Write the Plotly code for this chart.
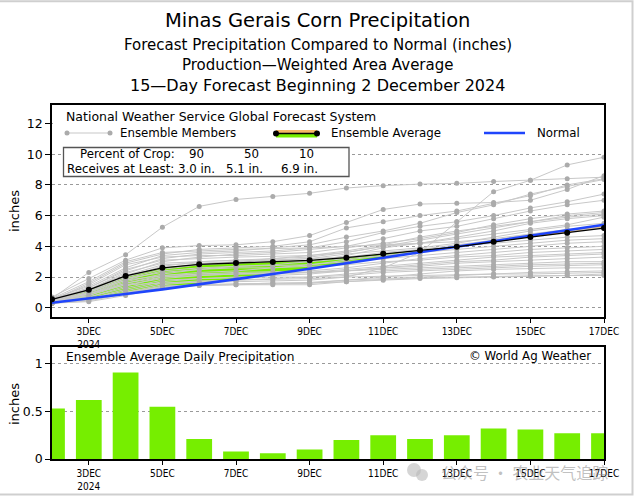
import plotly.graph_objects as go

# ---------------- data ----------------
dates = ["2024-12-02", "2024-12-03", "2024-12-04", "2024-12-05", "2024-12-06",
         "2024-12-07", "2024-12-08", "2024-12-09", "2024-12-10", "2024-12-11",
         "2024-12-12", "2024-12-13", "2024-12-14", "2024-12-15", "2024-12-16",
         "2024-12-17"]

ensemble_average = [0.55, 1.17, 2.07, 2.60, 2.83, 2.91, 2.98, 3.09, 3.26, 3.52,
                    3.74, 3.97, 4.30, 4.60, 4.89, 5.19]
normal = [0.33, 0.60, 0.90, 1.20, 1.52, 1.85, 2.20, 2.54, 2.90, 3.27,
          3.63, 3.99, 4.34, 4.70, 5.05, 5.41]
daily_precip = [0.53, 0.62, 0.91, 0.55, 0.21, 0.08, 0.06, 0.10, 0.20, 0.25,
                0.21, 0.25, 0.32, 0.31, 0.27, 0.27]

ensemble_members = [
    [0.60, 2.30, 3.45, 5.25, 6.60, 7.05, 7.25, 7.45, 7.80, 7.95, 8.05, 8.10, 8.22, 8.30, 8.40, 8.50],
    [0.40, 0.90, 1.50, 1.60, 1.65, 1.70, 1.75, 1.80, 2.00, 2.60, 3.60, 5.60, 7.56, 8.30, 9.30, 9.80],
    [0.70, 1.90, 3.10, 3.90, 4.05, 4.10, 4.30, 4.70, 5.55, 6.40, 6.75, 6.80, 6.85, 7.00, 7.70, 8.60],
    [0.50, 1.60, 2.90, 3.50, 3.80, 3.90, 4.00, 4.30, 5.20, 5.60, 6.00, 6.30, 6.80, 7.30, 8.00, 8.40],
    [0.60, 1.40, 2.60, 3.40, 3.60, 3.70, 3.90, 4.10, 4.60, 5.00, 5.50, 6.20, 6.70, 7.40, 7.90, 8.35],
    [0.50, 1.30, 2.40, 3.20, 3.50, 3.60, 3.70, 3.90, 4.30, 4.90, 5.30, 5.60, 6.00, 6.50, 6.90, 7.40],
    [0.40, 1.20, 2.20, 3.00, 3.30, 3.50, 3.60, 3.80, 4.00, 4.50, 5.00, 5.30, 5.80, 6.30, 6.70, 7.00],
    [0.50, 1.50, 2.80, 3.30, 3.40, 3.40, 3.50, 3.60, 3.90, 4.20, 4.50, 4.90, 5.40, 5.80, 6.10, 6.30],
    [0.30, 1.00, 1.90, 2.50, 2.80, 3.00, 3.20, 3.40, 3.70, 4.10, 4.60, 5.00, 5.30, 5.60, 6.00, 6.20],
    [0.60, 1.10, 2.00, 2.70, 3.00, 3.10, 3.20, 3.30, 3.60, 4.00, 4.40, 4.80, 5.20, 5.60, 5.90, 6.10],
    [0.40, 0.90, 1.70, 2.20, 2.50, 2.70, 2.80, 3.00, 3.40, 3.90, 4.20, 4.60, 5.00, 5.50, 5.80, 6.00],
    [0.50, 1.30, 2.50, 3.10, 3.20, 3.30, 3.35, 3.40, 3.60, 4.00, 4.20, 4.50, 4.80, 5.10, 5.40, 5.90],
    [0.40, 1.00, 2.10, 2.80, 2.90, 3.00, 3.10, 3.20, 3.50, 3.70, 3.90, 4.20, 4.60, 5.00, 5.30, 5.50],
    [0.50, 1.20, 2.30, 2.90, 3.00, 3.10, 3.10, 3.20, 3.30, 3.60, 3.80, 4.10, 4.40, 4.80, 5.10, 5.30],
    [0.60, 1.70, 3.00, 3.60, 3.70, 3.80, 3.85, 3.90, 4.00, 4.10, 4.20, 4.30, 4.50, 4.80, 5.00, 5.20],
    [0.30, 0.80, 1.60, 2.10, 2.30, 2.40, 2.60, 2.80, 3.10, 3.40, 3.70, 4.00, 4.20, 4.40, 4.60, 4.70],
    [0.50, 1.10, 2.00, 2.60, 2.80, 2.90, 3.00, 3.00, 3.20, 3.40, 3.60, 3.80, 4.00, 4.20, 4.40, 4.50],
    [0.40, 0.90, 1.80, 2.40, 2.60, 2.70, 2.75, 2.80, 3.00, 3.20, 3.40, 3.60, 3.80, 4.00, 4.20, 4.30],
    [0.30, 0.70, 1.40, 2.00, 2.20, 2.30, 2.35, 2.40, 2.60, 2.90, 3.20, 3.40, 3.60, 3.80, 3.90, 4.00],
    [0.50, 1.00, 1.90, 2.30, 2.50, 2.60, 2.60, 2.70, 2.80, 3.00, 3.10, 3.30, 3.40, 3.60, 3.70, 3.80],
    [0.40, 0.80, 1.50, 1.90, 2.10, 2.20, 2.30, 2.30, 2.50, 2.70, 2.90, 3.10, 3.30, 3.40, 3.50, 3.60],
    [0.30, 0.60, 1.20, 1.70, 1.90, 2.00, 2.10, 2.20, 2.40, 2.60, 2.80, 3.00, 3.10, 3.30, 3.40, 3.50],
    [0.50, 0.90, 1.60, 2.00, 2.10, 2.20, 2.20, 2.30, 2.40, 2.60, 2.70, 2.90, 3.00, 3.10, 3.20, 3.30],
    [0.40, 1.00, 1.80, 2.10, 2.20, 2.20, 2.25, 2.30, 2.40, 2.50, 2.60, 2.70, 2.80, 2.90, 3.00, 3.00],
    [0.30, 0.50, 1.00, 1.50, 1.70, 1.80, 1.90, 2.00, 2.20, 2.40, 2.50, 2.60, 2.70, 2.80, 2.85, 2.90],
    [0.40, 0.70, 1.30, 1.80, 1.90, 1.95, 2.00, 2.00, 2.10, 2.30, 2.40, 2.50, 2.60, 2.70, 2.75, 2.80],
    [0.30, 0.40, 0.80, 1.30, 1.45, 1.50, 1.55, 1.60, 1.80, 2.00, 2.20, 2.40, 2.50, 2.55, 2.60, 2.60],
    [0.30, 0.45, 0.90, 1.40, 1.50, 1.55, 1.60, 1.65, 1.80, 1.90, 2.00, 2.10, 2.20, 2.30, 2.35, 2.40],
    [0.40, 0.60, 1.10, 1.60, 1.75, 1.80, 1.85, 1.90, 2.00, 2.05, 2.10, 2.15, 2.20, 2.20, 2.25, 2.30],
    [0.30, 0.50, 1.00, 1.40, 1.50, 1.55, 1.60, 1.60, 1.70, 1.80, 1.90, 1.95, 2.00, 2.05, 2.10, 2.20],
    [0.35, 0.55, 0.95, 1.35, 1.45, 1.50, 1.50, 1.50, 1.70, 1.85, 1.95, 2.00, 2.05, 2.08, 2.10, 2.10],
]

tick_dates = ["2024-12-03", "2024-12-05", "2024-12-07", "2024-12-09",
              "2024-12-11", "2024-12-13", "2024-12-15", "2024-12-17"]
tick_labels = ["3DEC<br>2024", "5DEC", "7DEC", "9DEC", "11DEC", "13DEC", "15DEC", "17DEC"]
upper_yticks = [0, 2, 4, 6, 8, 10, 12]
lower_yticks = [0, 0.5, 1]
lower_yticklabels = ["0", "0.5", "1"]

crop_percent = ["90", "50", "10"]
crop_amount = ["3.0 in.", "5.1 in.", "6.9 in."]

# ---------------- style ----------------
FONT = "DejaVu Sans"
TICKFONT = "DejaVu Sans Condensed, DejaVu Sans"
GREEN = "#76ee00"
ORANGE = "#f5b766"
BLUE = "#1f45fc"
GRAY_LINE = "#c8c8c8"
GRAY_DOT = "#ababab"

# pixel helpers for layout placement (figure 635x497, plot area x 52..604, y 105..459)
L, R, T, B = 52, 604, 105, 459
U_BOT = 317
LW_TOP = 346.7


def px(x):
    return (x - L) / (R - L)


def uy(y):
    return (U_BOT - y) / (U_BOT - T)


def ly(y):
    return (B - y) / (B - LW_TOP)


def py(y):
    return (B - y) / (B - T)


fig = go.Figure()

upper_fill = [max(a, n) for a, n in zip(ensemble_average, normal)]
lower_fill = [min(a, n) for a, n in zip(ensemble_average, normal)]

# green fill (above normal)
fig.add_trace(go.Scatter(x=dates, y=normal, mode="lines", line=dict(width=0),
                         hoverinfo="skip", showlegend=False))
fig.add_trace(go.Scatter(x=dates, y=upper_fill, mode="lines", line=dict(width=0),
                         fill="tonexty", fillcolor=GREEN, hoverinfo="skip", showlegend=False))
# orange fill (below normal)
fig.add_trace(go.Scatter(x=dates, y=lower_fill, mode="lines", line=dict(width=0),
                         hoverinfo="skip", showlegend=False))
fig.add_trace(go.Scatter(x=dates, y=normal, mode="lines", line=dict(width=0),
                         fill="tonexty", fillcolor=ORANGE, hoverinfo="skip", showlegend=False))

for m in ensemble_members:
    fig.add_trace(go.Scatter(x=dates, y=m, mode="lines+markers",
                             line=dict(color=GRAY_LINE, width=1),
                             marker=dict(color=GRAY_DOT, size=5),
                             hoverinfo="skip", showlegend=False))

fig.add_trace(go.Scatter(x=dates, y=normal, mode="lines",
                         line=dict(color=BLUE, width=2.6), showlegend=False))
fig.add_trace(go.Scatter(x=dates, y=ensemble_average, mode="lines+markers",
                         line=dict(color="black", width=1.3),
                         marker=dict(color="black", size=6), showlegend=False))

fig.add_trace(go.Bar(x=dates, y=daily_precip, xaxis="x2", yaxis="y2",
                     marker=dict(color=GREEN, line=dict(width=0)),
                     width=0.7 * 86400000, showlegend=False))

axis_common = dict(showline=True, mirror=True, linecolor="black", linewidth=1.6,
                   ticks="outside", tickcolor="black", zeroline=False, automargin=False)

fig.update_layout(
    width=635, height=497,
    margin=dict(l=L, r=635 - R, t=T, b=497 - B, autoexpand=False),
    paper_bgcolor="white", plot_bgcolor="white",
    showlegend=False,
    font=dict(family=FONT, color="black"),
    xaxis=dict(domain=[0, 1], anchor="y", type="date",
               range=[dates[0], dates[-1]], tickvals=tick_dates, ticktext=tick_labels,
               ticklen=4, showgrid=False,
               tickfont=dict(family=TICKFONT, size=10), **axis_common),
    yaxis=dict(domain=[(B - U_BOT) / (B - T), 1], anchor="x",
               range=[-0.6, 13.2], tickvals=upper_yticks,
               ticklen=5, showgrid=True, gridcolor="#9a9a9a", griddash="dot", gridwidth=1,
               tickfont=dict(size=12.5), **axis_common),
    xaxis2=dict(domain=[0, 1], anchor="y2", type="date",
                range=[dates[0], dates[-1]], tickvals=tick_dates, ticktext=tick_labels,
                ticklen=4, showgrid=False,
                tickfont=dict(family=TICKFONT, size=10), **axis_common),
    yaxis2=dict(domain=[0, (B - LW_TOP) / (B - T)], anchor="x2",
                range=[0, 1.18], tickvals=lower_yticks, ticktext=lower_yticklabels,
                ticklen=5, showgrid=True, gridcolor="#9a9a9a", griddash="dot", gridwidth=1,
                tickfont=dict(size=12.5), **axis_common),
)

shapes = []
# white cover behind legend row (hides the 12 gridline)
shapes.append(dict(type="rect", xref="x domain", yref="y domain", x0=px(53), x1=px(603),
                   y0=uy(143), y1=uy(106.5), fillcolor="white", line=dict(width=0), layer="above"))
# percent-of-crop box
shapes.append(dict(type="rect", xref="x domain", yref="y domain",
                   x0=px(63.5), x1=px(349), y0=uy(176.5), y1=uy(147.5),
                   fillcolor="white", line=dict(color="#555", width=1.3), layer="above"))
# legend: ensemble members sample
shapes.append(dict(type="line", xref="x domain", yref="y domain",
                   x0=px(67), x1=px(110), y0=uy(133), y1=uy(133),
                   line=dict(color=GRAY_LINE, width=1.2), layer="above"))


def dot(cx, cy, r, color):
    return dict(type="circle", xref="x domain", yref="y domain",
                x0=px(cx - r), x1=px(cx + r), y0=uy(cy + r), y1=uy(cy - r),
                fillcolor=color, line=dict(width=0), layer="above")


shapes.append(dot(67, 133, 2.5, GRAY_DOT))
shapes.append(dot(110, 133, 2.5, GRAY_DOT))
# legend: ensemble average sample (orange over green with black line)
shapes.append(dict(type="rect", xref="x domain", yref="y domain",
                   x0=px(276), x1=px(317), y0=uy(133.5), y1=uy(130),
                   fillcolor=ORANGE, line=dict(width=0), layer="above"))
shapes.append(dict(type="rect", xref="x domain", yref="y domain",
                   x0=px(276), x1=px(317), y0=uy(137.5), y1=uy(133.5),
                   fillcolor=GREEN, line=dict(width=0), layer="above"))
shapes.append(dict(type="line", xref="x domain", yref="y domain",
                   x0=px(276), x1=px(317), y0=uy(133.5), y1=uy(133.5),
                   line=dict(color="black", width=1.3), layer="above"))
shapes.append(dot(276, 133.5, 3, "black"))
shapes.append(dot(317, 133.5, 3, "black"))
# legend: normal sample
shapes.append(dict(type="line", xref="x domain", yref="y domain",
                   x0=px(484), x1=px(525), y0=uy(133), y1=uy(133),
                   line=dict(color=BLUE, width=2.6), layer="above"))
# outer frame of the picture
shapes.append(dict(type="rect", xref="paper", yref="paper",
                   x0=px(-2), x1=px(632.5), y0=py(494.5), y1=py(1.2),
                   fillcolor="rgba(0,0,0,0)", line=dict(color="#cfcfcf", width=2), layer="above"))
# watermark icon
shapes.append(dict(type="circle", xref="paper", yref="paper",
                   x0=px(407), x1=px(421), y0=py(477), y1=py(463),
                   fillcolor="rgba(185,185,185,0.6)", line=dict(width=0), layer="above"))
shapes.append(dict(type="circle", xref="paper", yref="paper",
                   x0=px(416), x1=px(428), y0=py(481), y1=py(469),
                   fillcolor="rgba(185,185,185,0.6)", line=dict(width=0), layer="above"))
fig.update_layout(shapes=shapes)

ann = []


def text(x, y, s, size, xref, yref, xanchor="left", color="black", family=FONT, angle=0):
    ann.append(dict(x=x, y=y, xref=xref, yref=yref, text=s, showarrow=False,
                    xanchor=xanchor, yanchor="middle", textangle=angle,
                    font=dict(family=family, size=size, color=color)))


# titles
cx = px(317.5)
text(cx, py(20), "Minas Gerais Corn Precipitation", 19.5, "paper", "paper", "center")
text(cx, py(45), "Forecast Precipitation Compared to Normal (inches)", 15, "paper", "paper", "center")
text(cx, py(65), "Production—Weighted Area Average", 15, "paper", "paper", "center")
text(cx, py(85), "15—Day Forecast Beginning 2 December 2024", 16, "paper", "paper", "center")

# axis titles
text(px(14), py(211), "inches", 13, "paper", "paper", "center", angle=-90)
text(px(14), py(404), "inches", 13, "paper", "paper", "center", angle=-90)

# legend texts
text(px(64), uy(116), "National Weather Service Global Forecast System", 12.5, "x domain", "y domain")
text(px(118), uy(133), "Ensemble Members", 11.8, "x domain", "y domain")
text(px(329), uy(133), "Ensemble Average", 11.8, "x domain", "y domain")
text(px(535), uy(133), "Normal", 11.8, "x domain", "y domain")

# percent box texts
text(px(177), uy(154), "Percent of Crop:", 11.8, "x domain", "y domain", "right")
text(px(176), uy(169), "Receives at Least:", 11.8, "x domain", "y domain", "right")
for xc, s in zip([196, 251, 306], crop_percent):
    text(px(xc), uy(154), s, 11.8, "x domain", "y domain", "center")
for xc, s in zip([196, 244, 299], crop_amount):
    text(px(xc), uy(169), s, 11.8, "x domain", "y domain", "center")

# lower panel texts
text(px(64), ly(357), "Ensemble Average Daily Precipitation", 12.2, "x2 domain", "y2 domain")
text(px(593), ly(356), "© World Ag Weather", 11.8, "x2 domain", "y2 domain", "right")

# watermark
text(px(524), py(472), "公众号 · 农业天气追踪", 16, "paper", "paper", "center",
     color="rgba(140,140,140,0.55)", family="Noto Sans CJK SC")

fig.update_layout(annotations=ann)

fig.write_html("out.html", config={"displayModeBar": False},
               post_script="document.body.style.margin='0';")
